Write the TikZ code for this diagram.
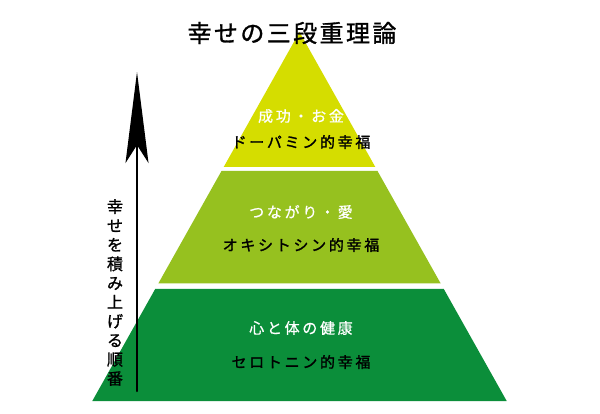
\documentclass[tikz,border=0pt]{standalone}
\usepackage{fontspec}
\usetikzlibrary{arrows.meta}
\newfontfamily\jpv[FakeBold=1.2]{Noto Sans CJK JP}
\newfontfamily\jpw[LetterSpace=18,FakeBold=0.8]{Noto Sans CJK JP}
\newfontfamily\jpb[LetterSpace=18,FakeBold=1.5]{Noto Sans CJK JP}
\newfontfamily\jpti[LetterSpace=10,FakeBold=1.2]{Noto Sans CJK JP}
\definecolor{lvltop}{HTML}{D5DD00}
\definecolor{lvlmid}{HTML}{96C11F}
\definecolor{lvlbot}{HTML}{0B8E3A}
\tikzset{
  white label/.style={text=white, font=\jpw\fontsize{15}{15}\selectfont, inner sep=0pt, anchor=center},
  black label/.style={text=black, font=\jpb\fontsize{15}{15}\selectfont, inner sep=0pt, anchor=center},
}
\begin{document}
\begin{tikzpicture}[x=1pt,y=-1pt]
\useasboundingbox[fill=white] (0,0) rectangle (600,414);
% pyramid layers
\fill[lvltop] (299.5,32) -- (375.3,167) -- (223.7,167) -- cycle;
\fill[lvlmid] (221.5,171) -- (377.5,171) -- (440.7,283.5) -- (158.3,283.5) -- cycle;
\fill[lvlbot] (155.2,289) -- (443.8,289) -- (506.7,401) -- (92.3,401) -- cycle;
% title
\node[font=\jpti\fontsize{24}{24}\selectfont, inner sep=0pt] (title) at (292,33) {幸せの三段重理論};
% labels
\node[white label] (t1) at (301,116) {成功・お金};
\node[black label] (t2) at (301,142) {ドーパミン的幸福};
\node[white label] (m1) at (301,212) {つながり・愛};
\node[black label] (m2) at (301,245) {オキシトシン的幸福};
\node[white label] (b1) at (301,328) {心と体の健康};
\node[black label] (b2) at (301,362) {セロトニン的幸福};
% arrow
\coordinate (abot) at (137,391);
\coordinate (atop) at (137,72);
\draw[line width=2.5pt, line cap=round, -{Stealth[length=91pt,width=23pt,inset=18pt]}] (abot) -- (atop);
% vertical text
\node[font=\jpv\fontsize{16}{19.1}\selectfont, align=center, inner sep=0pt] (vt) at (115,292.5)
  {幸\\せ\\を\\積\\み\\上\\げ\\る\\順\\番};
\end{tikzpicture}
\end{document}
